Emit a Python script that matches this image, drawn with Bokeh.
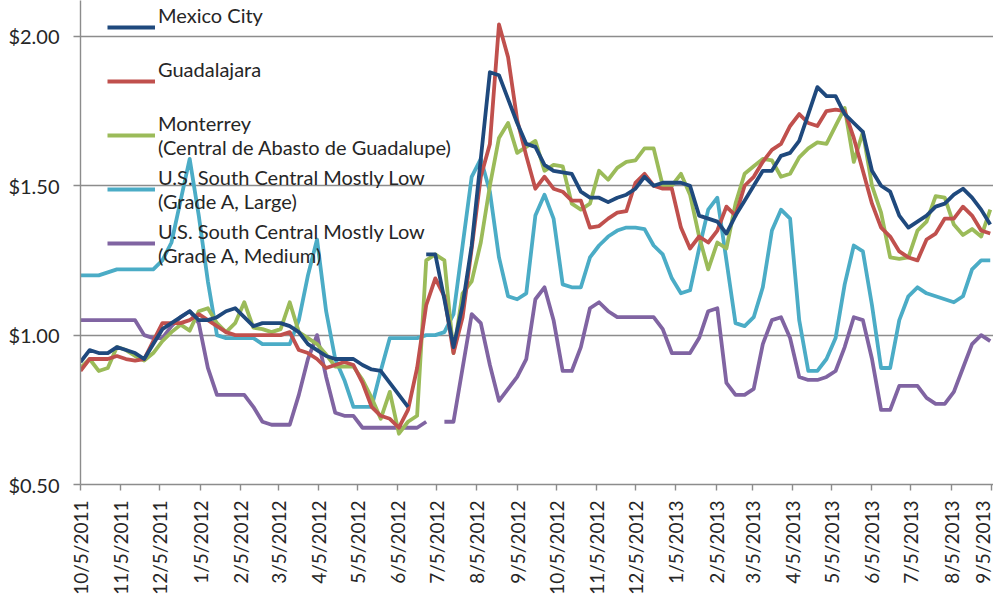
import pandas as pd
from bokeh.plotting import figure
from bokeh.models import Range1d, FixedTicker, Legend, LegendItem
from bokeh.embed import file_html
from bokeh.resources import INLINE

nan = float("nan")

# weekly price series (US$/dozen), first week 10/5/2011
week_start = "2011-10-05"
n_weeks = 101

mexico_city = [0.91, 0.95, 0.94, 0.94, 0.96, 0.95, 0.94, 0.92, 0.97, 1.02,
               1.04, 1.06, 1.08, 1.05, 1.05, 1.06, 1.08, 1.09, 1.06, 1.03,
               1.04, 1.04, 1.04, 1.03, 1.01, 0.97, 0.95, 0.93, 0.92, 0.92,
               0.92, 0.90, 0.885, 0.88, 0.84, 0.80, 0.76, nan, 1.27, 1.27,
               1.12, 0.96, 1.10, 1.30, 1.59, 1.88, 1.87, 1.79, 1.71, 1.64,
               1.63, 1.57, 1.55, 1.545, 1.54, 1.48, 1.46, 1.46, 1.445, 1.46,
               1.47, 1.49, 1.53, 1.50, 1.51, 1.51, 1.51, 1.50, 1.40, 1.39,
               1.38, 1.34, 1.40, 1.45, 1.50, 1.55, 1.55, 1.60, 1.61, 1.65,
               1.74, 1.83, 1.80, 1.80, 1.74, 1.71, 1.68, 1.55, 1.50, 1.48,
               1.40, 1.36, 1.38, 1.40, 1.43, 1.44, 1.47, 1.49, 1.46, 1.42,
               1.37]

guadalajara = [0.88, 0.92, 0.92, 0.92, 0.93, 0.92, 0.915, 0.92, 0.98, 1.04,
               1.04, 1.04, 1.05, 1.07, 1.05, 1.03, 1.01, 1.00, 1.00, 1.00,
               1.00, 1.00, 1.00, 1.01, 0.95, 0.94, 0.92, 0.89, 0.90, 0.91,
               0.90, 0.84, 0.76, 0.73, 0.72, 0.69, 0.75, 0.89, 1.10, 1.19,
               1.13, 0.94, 1.06, 1.29, 1.53, 1.64, 2.04, 1.93, 1.72, 1.60,
               1.49, 1.53, 1.49, 1.48, 1.45, 1.45, 1.36, 1.365, 1.39, 1.41,
               1.415, 1.51, 1.54, 1.50, 1.49, 1.49, 1.36, 1.29, 1.33, 1.31,
               1.35, 1.43, 1.40, 1.50, 1.53, 1.58, 1.62, 1.64, 1.70, 1.74,
               1.71, 1.70, 1.75, 1.755, 1.75, 1.66, 1.55, 1.44, 1.36, 1.33,
               1.28, 1.26, 1.25, 1.32, 1.34, 1.39, 1.39, 1.43, 1.40, 1.35,
               1.34]

monterrey = [0.89, 0.92, 0.88, 0.89, 0.96, 0.95, 0.93, 0.915, 0.94, 0.98,
             1.01, 1.035, 1.015, 1.08, 1.09, 1.04, 1.01, 1.04, 1.11, 1.025,
             1.02, 1.01, 1.02, 1.11, 1.01, 0.99, 0.97, 0.935, 0.895, 0.895,
             0.895, 0.85, 0.79, 0.72, 0.81, 0.67, 0.71, 0.73, 1.25, 1.27,
             1.25, 0.94, 1.14, 1.18, 1.31, 1.50, 1.66, 1.71, 1.61, 1.63,
             1.65, 1.55, 1.57, 1.565, 1.44, 1.42, 1.44, 1.55, 1.52, 1.56,
             1.58, 1.585, 1.625, 1.625, 1.50, 1.50, 1.54, 1.47, 1.33, 1.22,
             1.31, 1.29, 1.44, 1.54, 1.565, 1.59, 1.585, 1.53, 1.54, 1.595,
             1.625, 1.645, 1.64, 1.70, 1.76, 1.58, 1.68, 1.50, 1.41, 1.26,
             1.255, 1.26, 1.35, 1.38, 1.465, 1.46, 1.37, 1.335, 1.355, 1.33,
             1.42]

us_large = [1.20, 1.20, 1.20, 1.21, 1.22, 1.22, 1.22, 1.22, 1.22, 1.25,
            1.31, 1.45, 1.59, 1.40, 1.18, 1.00, 0.99, 0.99, 0.99, 0.99,
            0.97, 0.97, 0.97, 0.97, 1.05, 1.20, 1.32, 1.08, 0.92, 0.85,
            0.76, 0.76, 0.76, 0.88, 0.99, 0.99, 0.99, 0.99, 1.00, 1.00,
            1.01, 1.07, 1.30, 1.53, 1.59, 1.48, 1.26, 1.13, 1.12, 1.14,
            1.40, 1.47, 1.39, 1.17, 1.16, 1.16, 1.26, 1.30, 1.33, 1.35,
            1.36, 1.36, 1.355, 1.30, 1.27, 1.19, 1.14, 1.15, 1.29, 1.42,
            1.46, 1.25, 1.04, 1.03, 1.06, 1.16, 1.35, 1.42, 1.39, 1.05,
            0.88, 0.88, 0.92, 0.99, 1.17, 1.30, 1.28, 1.10, 0.89, 0.89,
            1.05, 1.13, 1.16, 1.14, 1.13, 1.12, 1.11, 1.13, 1.22, 1.25,
            1.25]

us_medium = [1.05, 1.05, 1.05, 1.05, 1.05, 1.05, 1.05, 1.00, 0.99, 0.99,
             1.03, 1.06, 1.08, 1.04, 0.89, 0.80, 0.80, 0.80, 0.80, 0.76,
             0.71, 0.70, 0.70, 0.70, 0.80, 0.92, 1.00, 0.86, 0.74, 0.73,
             0.73, 0.69, 0.69, 0.69, 0.69, 0.69, 0.69, 0.69, 0.71, nan,
             0.71, 0.71, 0.89, 1.07, 1.04, 0.90, 0.78, 0.82, 0.86, 0.92,
             1.12, 1.16, 1.05, 0.88, 0.88, 0.96, 1.09, 1.11, 1.08, 1.06,
             1.06, 1.06, 1.06, 1.06, 1.02, 0.94, 0.94, 0.94, 0.99, 1.08,
             1.09, 0.84, 0.80, 0.80, 0.82, 0.97, 1.05, 1.06, 0.99, 0.86,
             0.85, 0.85, 0.86, 0.88, 0.96, 1.06, 1.05, 0.92, 0.75, 0.75,
             0.83, 0.83, 0.83, 0.79, 0.77, 0.77, 0.81, 0.89, 0.97, 1.00,
             0.98]

series_names = ["Mexico City", "Guadalajara",
                "Monterrey\n(Central de Abasto de Guadalupe)",
                "U.S. South Central Mostly Low\n(Grade A, Large)",
                "U.S. South Central Mostly Low\n(Grade A, Medium)"]
series_colors = ["#1F497D", "#C0504D", "#9BBB59", "#4BACC6", "#8064A2"]

tick_dates = ["2011-10-05", "2011-11-05", "2011-12-05", "2012-01-05", "2012-02-05",
              "2012-03-05", "2012-04-05", "2012-05-05", "2012-06-05", "2012-07-05",
              "2012-08-05", "2012-09-05", "2012-10-05", "2012-11-05", "2012-12-05",
              "2013-01-05", "2013-02-05", "2013-03-05", "2013-04-05", "2013-05-05",
              "2013-06-05", "2013-07-05", "2013-08-05", "2013-09-05"]
tick_labels = ["10/5/2011", "11/5/2011", "12/5/2011", "1/5/2012", "2/5/2012",
               "3/5/2012", "4/5/2012", "5/5/2012", "6/5/2012", "7/5/2012",
               "8/5/2012", "9/5/2012", "10/5/2012", "11/5/2012", "12/5/2012",
               "1/5/2013", "2/5/2013", "3/5/2013", "4/5/2013", "5/5/2013",
               "6/5/2013", "7/5/2013", "8/5/2013", "9/5/2013"]
y_ticks = [0.5, 1.0, 1.5, 2.0]
y_tick_labels = ["$0.50", "$1.00", "$1.50", "$2.00"]

# ---------------------------------------------------------------
weeks = pd.date_range(week_start, periods=n_weeks, freq="7D")
tick_ms = [float(pd.Timestamp(d).value // 10**6) for d in tick_dates]
DAY = 86400000.0

FONT = "Lato"
TXT = "#262626"
GRID = "#8C8C8C"

p = figure(width=993, height=600, x_axis_type="datetime",
           x_range=Range1d(tick_ms[0], tick_ms[0] + 702.5 * DAY),
           y_range=Range1d(0.5, 2.12),
           output_backend="svg", toolbar_location=None,
           min_border_left=80, min_border_right=0,
           min_border_top=0, min_border_bottom=116)
p.outline_line_color = None
p.background_fill_color = "white"
p.border_fill_color = "white"

renderers = []
for vals, col in zip([mexico_city, guadalajara, monterrey, us_large, us_medium][::-1],
                     series_colors[::-1]):
    r = p.line(weeks, vals, line_color=col, line_width=3.8, line_join="round")
    renderers.append(r)
renderers = renderers[::-1]

# axes
p.xgrid.visible = False
p.ygrid.ticker = FixedTicker(ticks=y_ticks)
p.ygrid.grid_line_color = GRID
p.ygrid.grid_line_width = 1.4

yax = p.yaxis[0]
yax.ticker = FixedTicker(ticks=y_ticks)
yax.major_label_overrides = {t: l for t, l in zip(y_ticks, y_tick_labels)}
yax.axis_line_color = GRID
yax.axis_line_width = 1.4
yax.major_tick_line_color = GRID
yax.major_tick_line_width = 1.4
yax.major_tick_out = 7
yax.major_tick_in = 0
yax.minor_tick_line_color = None
yax.major_label_standoff = 14
yax.major_label_text_font = FONT
yax.major_label_text_font_size = "20px"
yax.major_label_text_color = TXT

xax = p.xaxis[0]
xax.ticker = FixedTicker(ticks=tick_ms)
xax.major_label_overrides = {t: l for t, l in zip(tick_ms, tick_labels)}
xax.major_label_orientation = 1.5707963267948966
xax.axis_line_color = GRID
xax.axis_line_width = 1.4
xax.major_tick_line_color = GRID
xax.major_tick_line_width = 1.4
xax.major_tick_out = 6
xax.major_tick_in = 0
xax.minor_tick_line_color = None
xax.major_label_standoff = 10
xax.major_label_text_font = FONT
xax.major_label_text_font_size = "19px"
xax.major_label_text_color = TXT

legend_labels = [n if "\n" in n else n + "\n " for n in series_names]
legend = Legend(items=[LegendItem(label=n, renderers=[r]) for n, r in zip(legend_labels, renderers)],
                location=(27, 217), orientation="vertical")
legend.margin = 0
legend.padding = 0
legend.border_line_color = None
legend.background_fill_alpha = 0
legend.glyph_width = 48
legend.glyph_height = 20
legend.label_standoff = 3
legend.label_height = 20
legend.spacing = 6
legend.label_text_font = FONT
legend.label_text_font_size = "20px"
legend.label_text_color = TXT
p.add_layout(legend, "center")

with open("out.html", "w") as f:
    f.write(file_html(p, INLINE))
